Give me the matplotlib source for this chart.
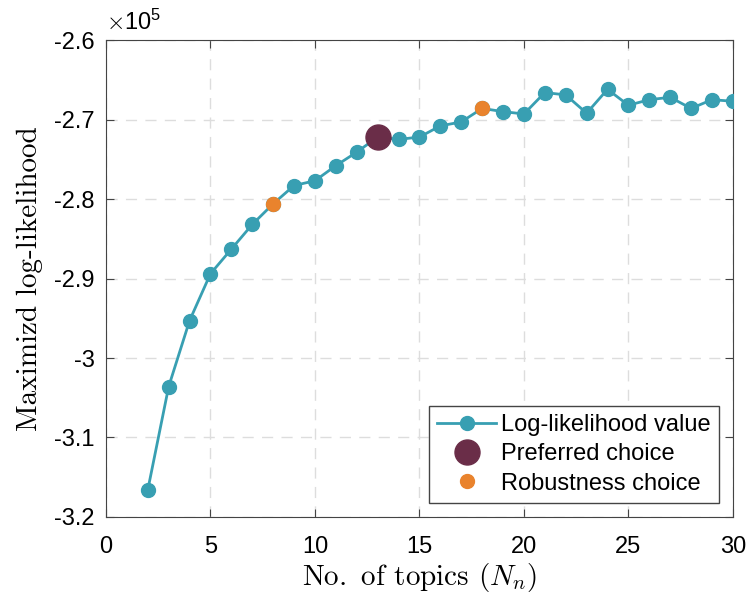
import numpy as np
import matplotlib.pyplot as plt
from matplotlib.ticker import FuncFormatter

plt.rcParams['font.family'] = ['Liberation Sans', 'DejaVu Sans']
plt.rcParams['mathtext.fontset'] = 'cm'
plt.rcParams['axes.unicode_minus'] = False

# number of topics and maximized log-likelihood (units of 1e5)
topics = np.arange(2, 31)
loglik = [-3.166, -3.036, -2.953, -2.894, -2.863, -2.832, -2.806, -2.783, -2.777,
          -2.758, -2.741, -2.722, -2.725, -2.722, -2.708, -2.703, -2.686, -2.690,
          -2.693, -2.666, -2.669, -2.692, -2.662, -2.682, -2.675, -2.672, -2.686,
          -2.675, -2.677]
preferred = 13
robust = [8, 18]

teal = '#389FB2'
maroon = '#6A2D48'
orange = '#E9832D'

fig = plt.figure(figsize=(7.49, 5.98), dpi=100)
ax = fig.add_axes([0.1415, 0.1355, 0.837, 0.7975])

ax.plot(topics, loglik, '-o', color=teal, lw=2, ms=10, label='Log-likelihood value', zorder=3)
i = list(topics).index(preferred)
ax.plot([preferred], [loglik[i]], 'o', color=maroon, ms=18, ls='none', label='Preferred choice', zorder=4)
ri = [list(topics).index(r) for r in robust]
ax.plot(robust, [loglik[k] for k in ri], 'o', color=orange, ms=10, ls='none', label='Robustness choice', zorder=4)

ax.set_xlim(0, 30)
ax.set_ylim(-3.2, -2.6)
ax.set_xticks(range(0, 31, 5))
ax.set_yticks(np.arange(-3.2, -2.55, 0.1))
ax.yaxis.set_major_formatter(FuncFormatter(lambda v, p: '%g' % round(v, 1)))
ax.tick_params(direction='in', top=True, right=True, labelsize=17, length=6, color='#444444', pad=8)
ax.tick_params(axis='x', pad=14)
ax.grid(True, ls=(0, (8, 6)), color='#DDDDDD', lw=1)
for s in ax.spines.values():
    s.set_color('#444444')

ax.set_xlabel(r'No. $\,$of topics ($N_n$)', family='cmr10', fontsize=21, labelpad=2)
ax.set_ylabel('Maximizd log-likelihood', family='cmr10', fontsize=21, labelpad=8)
ax.text(0, 1.01, r'$\times\mathregular{10^5}$', transform=ax.transAxes, fontsize=17, va='bottom', ha='left')

leg = ax.legend(loc='lower right', fontsize=17, fancybox=False, edgecolor='#444444',
                framealpha=1, borderaxespad=0.6, handlelength=2.5, labelspacing=0.3,
                handletextpad=0.2, borderpad=0.35)
leg.get_frame().set_linewidth(1)

fig.savefig('out.png', dpi=100)
